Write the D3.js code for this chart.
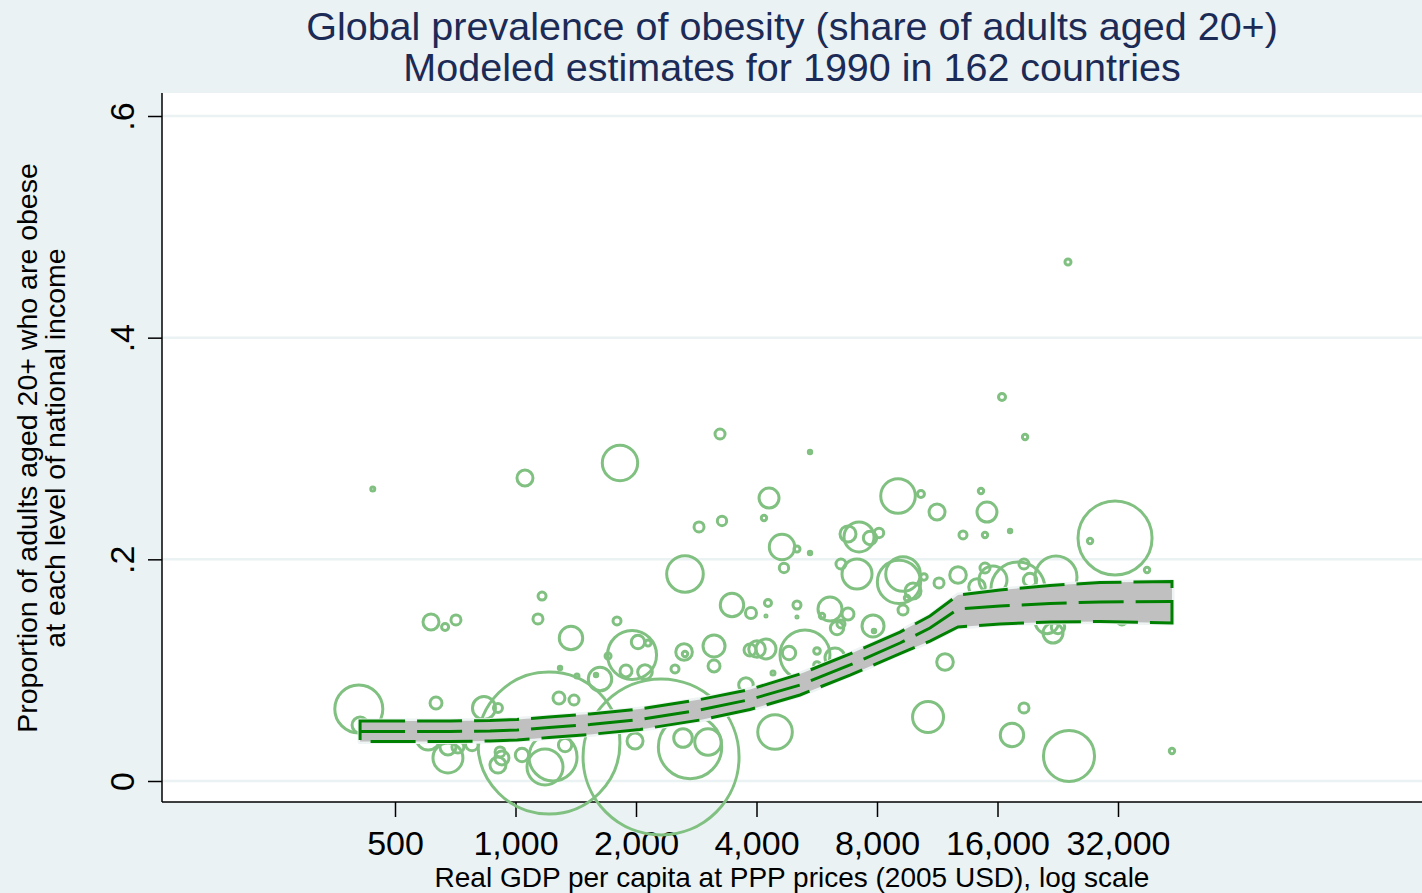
<!DOCTYPE html>
<html>
<head>
<meta charset="utf-8">
<script src="https://cdn.jsdelivr.net/npm/d3@7"></script>
<style>
  html, body { margin: 0; padding: 0; background: #EAF2F3; }
  svg { display: block; font-family: "Liberation Sans", Arial, Helvetica, sans-serif; }
</style>
</head>
<body>
<svg id="chart" width="1422" height="893"></svg>
<script>
// Country estimates, 1990: real GDP per capita (2005 USD, PPP), share of adults obese, population (millions)
const gdp = [406, 409, 440, 615, 667, 710, 633, 605, 678, 678, 718, 779, 834, 904, 925, 904, 915, 1038, 1185, 1241,
  1212, 1330, 1284, 1400, 1292, 1424, 1376, 1138, 1165, 1056, 1824, 1793, 1955, 2023, 2143, 1888, 2106, 1703, 1626, 1589,
  1989, 2310, 2729, 3027, 2621, 4450, 2651, 3474, 3875, 4273, 4224, 5049, 5049, 6105, 5831, 6771, 6357, 6503, 7819, 7863,
  3133, 3133, 2637, 2651, 2503, 3853, 4012, 4224, 5286, 4823, 5665, 5665, 6283, 4398, 3765, 4632, 5049, 5442, 4685, 4299,
  4176, 2874, 3280, 3243, 5442, 7214, 6771, 7685, 8094, 7131, 6503, 9028, 10300, 11300, 14550, 15060, 13120, 14890, 17200, 16420,
  18750, 24000, 31460, 27250, 37820, 9292, 9080, 9842, 10480, 9507, 9292, 11430, 12750, 14220, 14890, 15590, 18000, 18630, 19290, 22400,
  22020, 22660, 21270, 32740, 11830, 10730, 17390, 18630, 24140, 43650];
const obesity = [0.065, 0.0505, 0.2635, 0.1435, 0.139, 0.1453, 0.0704, 0.0388, 0.0208, 0.0307, 0.0307, 0.0334, 0.0659, 0.0659, 0.0208, 0.0144, 0.0262, 0.0235, 0.0126, 0.0217,
  0.0343, 0.0325, 0.0749, 0.0731, 0.102, 0.0947, 0.129, 0.1462, 0.1669, 0.2734, 0.2869, 0.1444, 0.1137, 0.1254, 0.1245, 0.0993, 0.0983, 0.1128, 0.092, 0.0956,
  0.0361, 0.0217, 0.0307, 0.0352, 0.0388, 0.0442, 0.1868, 0.1588, 0.1516, 0.1606, 0.1489, 0.1588, 0.148, 0.1552, 0.1489, 0.1507, 0.138, 0.1417, 0.1399, 0.1353,
  0.1218, 0.1038, 0.1164, 0.1146, 0.1011, 0.1182, 0.1191, 0.1191, 0.1137, 0.1155, 0.1173, 0.1047, 0.111, 0.0974, 0.0866, 0.2111, 0.2093, 0.2057, 0.1922, 0.2553,
  0.2373, 0.2292, 0.2346, 0.3131, 0.2969, 0.2202, 0.2229, 0.2193, 0.2238, 0.1868, 0.1958, 0.2572, 0.259, 0.2427, 0.2617, 0.2427, 0.222, 0.222, 0.2256, 0.3465,
  0.3104, 0.4683, 0.2193, 0.2165, 0.1904, 0.1868, 0.1796, 0.1714, 0.1841, 0.1651, 0.1543, 0.1787, 0.1859, 0.175, 0.1922, 0.1814, 0.1732, 0.1958, 0.1814, 0.1841,
  0.1335, 0.139, 0.1435, 0.1453, 0.1074, 0.0577, 0.0415, 0.0659, 0.0226, 0.0271];
const population = [108, 12, 0.75, 12, 2.3, 4.7, 6.7, 27, 42, 12, 6.7, 8.4, 24.8, 3.8, 9.2, 12, 4.7, 8.4, 60.7, 108,
  945, 8.4, 6.7, 4.7, 0.54, 0.75, 25.7, 4.7, 3, 12, 58.7, 3, 112.5, 8.4, 1.7, 6.7, 10, 1.7, 25.7, 0.54,
  12, 1140, 188, 33, 16.2, 56, 62.8, 25.7, 5.7, 2.3, 0.19, 3, 0.19, 27, 1.37, 6.7, 8.4, 3, 22.7, 0.54,
  22.7, 6.7, 12.9, 1.37, 3, 6.7, 12.9, 18.7, 117, 8.4, 2.04, 2.04, 18.7, 0.75, 10, 30.2, 1.7, 0.54, 4.1, 18.7,
  1.37, 4.7, 4.1, 4.7, 0.54, 42.2, 12, 8.4, 4.1, 42.2, 4.7, 56, 2.3, 12, 1.37, 18.7, 3, 1.37, 0.54, 2.3,
  1.37, 1.7, 257, 1.37, 1.37, 56, 88, 12, 2.04, 1.37, 4.7, 4.7, 12.9, 12.9, 4.7, 36.7, 137, 4.7, 8.4, 82.6,
  18.7, 8.4, 25.7, 4.7, 12.9, 45, 25.7, 4.7, 122, 1.37];

// Local fit of obesity on log income, with its confidence band
const fitGdp   = [409, 500, 686, 864, 1010, 1212, 1535, 2046, 2890, 3853, 5137, 6850, 9131, 10850, 12750, 16230, 21640, 28860, 43650];
const fitMean  = [0.0447, 0.0447, 0.0447, 0.0451, 0.046, 0.0483, 0.051, 0.0555, 0.0641, 0.0735, 0.0866, 0.1047, 0.1245, 0.138, 0.1552, 0.1579, 0.1602, 0.1615, 0.162];
const fitLower = [0.0356, 0.0356, 0.0356, 0.0361, 0.037, 0.0392, 0.042, 0.0465, 0.055, 0.0645, 0.0776, 0.0956, 0.115, 0.1263, 0.139, 0.1417, 0.1435, 0.1439, 0.1426];
const fitUpper = [0.0541, 0.0541, 0.0541, 0.0546, 0.0555, 0.0577, 0.0605, 0.065, 0.0735, 0.0826, 0.0965, 0.1146, 0.1344, 0.1489, 0.1678, 0.1723, 0.1764, 0.1791, 0.18];

const xTicks = [500, 1000, 2000, 4000, 8000, 16000, 32000];
const yTicks = [0, 0.2, 0.4, 0.6];
const titleLines = ["Global prevalence of obesity (share of adults aged 20+)", "Modeled estimates for 1990 in 162 countries"];
const xTitle = "Real GDP per capita at PPP prices (2005 USD), log scale";
const yTitleLines = ["Proportion of adults aged 20+ who are obese", "at each level of national income"];

const W = 1422, H = 893;
const plot = { left: 162, top: 93, right: 1422, bottom: 802 };

const svg = d3.select("#chart");
const x = d3.scaleLog().domain([500, 32000]).range([395, 1118]);
const y = d3.scaleLinear().domain([0, 0.6]).range([781, 116]);
const r = d3.scaleSqrt().domain([0, 1140]).range([0, 78]);

// outer region
svg.append("rect").attr("width", W).attr("height", H).attr("fill", "#EAF2F3");
// plot region
svg.append("rect")
  .attr("x", plot.left).attr("y", plot.top)
  .attr("width", plot.right - plot.left).attr("height", plot.bottom - plot.top)
  .attr("fill", "#ffffff");

// horizontal grid
svg.append("g").selectAll("line").data(yTicks).join("line")
  .attr("x1", plot.left).attr("x2", plot.right)
  .attr("y1", d => y(d)).attr("y2", d => y(d))
  .attr("stroke", "#EAF2F3").attr("stroke-width", 2.5);

// titles, one text element per line
svg.append("g").selectAll("text").data(titleLines).join("text")
  .attr("x", 792).attr("y", (d, i) => 40 + i * 41)
  .attr("text-anchor", "middle").attr("fill", "#1C2A56")
  .attr("font-size", (d, i) => i === 0 ? 39.5 : 39.5)
  .text(d => d);

svg.append("text").attr("x", 792).attr("y", 887).attr("text-anchor", "middle")
  .attr("font-size", 28).attr("fill", "#000").text(xTitle);

const yt = svg.append("text").attr("text-anchor", "middle").attr("font-size", 28.5).attr("fill", "#000")
  .attr("transform", "translate(0,448) rotate(-90)");
yt.selectAll("tspan").data(yTitleLines).join("tspan")
  .attr("x", 0).attr("y", (d, i) => 36.5 + i * 28.5).text(d => d);

// x axis
const xAxis = svg.append("g").attr("transform", `translate(0,${plot.bottom})`)
  .call(d3.axisBottom(x).tickValues(xTicks).tickFormat(d3.format(",")).tickSize(15));
xAxis.select(".domain").remove();
xAxis.attr("font-family", null);
xAxis.selectAll(".tick line").attr("stroke", "#000").attr("stroke-width", 1.5);
xAxis.selectAll(".tick text").attr("y", 53).attr("dy", null)
  .attr("font-size", 34).attr("fill", "#000");

// y axis
const yFmt = d => d === 0 ? "0" : d3.format(".1f")(d).replace(/^0/, "");
const yAxis = svg.append("g").attr("transform", `translate(${plot.left},0)`)
  .call(d3.axisLeft(y).tickValues(yTicks).tickFormat(yFmt).tickSize(14));
yAxis.select(".domain").remove();
yAxis.attr("font-family", null);
yAxis.selectAll(".tick line").attr("stroke", "#000").attr("stroke-width", 1.5);
yAxis.selectAll(".tick text")
  .attr("x", null).attr("dy", null).attr("y", 0)
  .attr("text-anchor", "middle")
  .attr("transform", "translate(-28,0) rotate(-90)")
  .attr("font-size", 34).attr("fill", "#000");

// axis lines
svg.append("line").attr("x1", plot.left).attr("x2", plot.left).attr("y1", plot.top).attr("y2", plot.bottom)
  .attr("stroke", "#000").attr("stroke-width", 1.5);
svg.append("line").attr("x1", plot.left).attr("x2", plot.right).attr("y1", plot.bottom).attr("y2", plot.bottom)
  .attr("stroke", "#000").attr("stroke-width", 1.5);

// bubbles sized by population
const countries = gdp.map((g, i) => ({ g, o: obesity[i], p: population[i] }))
  .sort((a, b) => b.p - a.p);
svg.append("g").selectAll("circle").data(countries).join("circle")
  .attr("cx", d => x(d.g)).attr("cy", d => y(d.o)).attr("r", d => r(d.p))
  .attr("fill", "none").attr("stroke", "#80C080").attr("stroke-width", 3);

// confidence band and fitted line
const fit = fitGdp.map((g, i) => ({ g, m: fitMean[i], lo: fitLower[i], hi: fitUpper[i] }));
const band = d3.area().x(d => x(d.g)).y0(d => y(d.lo)).y1(d => y(d.hi));
const line = d3.line().x(d => x(d.g)).y(d => y(d.m));
svg.append("path").datum(fit).attr("d", band)
  .attr("fill", "#C0C0C0").attr("stroke", "#EEF3F3").attr("stroke-width", 5).attr("stroke-linejoin", "round");
svg.append("path").datum(fit).attr("d", band)
  .attr("fill", "#C0C0C0").attr("stroke", "#008000").attr("stroke-width", 3)
  .attr("stroke-dasharray", "45 12");
svg.append("path").datum(fit).attr("d", line)
  .attr("fill", "none").attr("stroke", "#008000").attr("stroke-width", 3)
  .attr("stroke-dasharray", "45 12");
</script>
</body>
</html>
